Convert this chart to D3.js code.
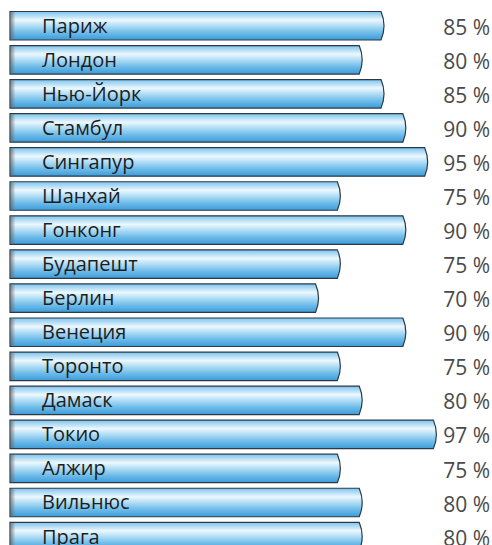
<!DOCTYPE html>
<html>
<head>
<meta charset="utf-8">
<script src="https://cdn.jsdelivr.net/npm/d3@7"></script>
<style>
  body { margin: 0; background: #fff; }
  text { font-family: "Open Sans", "Noto Sans", sans-serif; }
</style>
</head>
<body>
<div id="chart"></div>
<script>
// Städte und Werte (in %)
var cities = ["Париж", "Лондон", "Нью-Йорк", "Стамбул", "Сингапур", "Шанхай", "Гонконг",
  "Будапешт", "Берлин", "Венеция", "Торонто", "Дамаск", "Токио", "Алжир", "Вильнюс", "Прага"];
var values = [85, 80, 85, 90, 95, 75, 90, 75, 70, 90, 75, 80, 97, 75, 80, 80];

var width = 492, height = 545;
var svg = d3.select("#chart").append("svg")
  .attr("width", width).attr("height", height);

var x = d3.scaleLinear().domain([0, 100]).range([10, 446.5]);
var y = d3.scaleBand().domain(cities).range([11.5, 550.8]).paddingInner(0.163).paddingOuter(0);

// Verlauf für die Balken
var defs = svg.append("defs");
var grad = defs.append("linearGradient").attr("id", "barGrad")
  .attr("x1", 0).attr("y1", 0).attr("x2", 0).attr("y2", 1);
grad.append("stop").attr("offset", "0%").attr("stop-color", "#7cc3ee");
grad.append("stop").attr("offset", "30%").attr("stop-color", "#ecf8fe");
grad.append("stop").attr("offset", "45%").attr("stop-color", "#bfe4f8");
grad.append("stop").attr("offset", "75%").attr("stop-color", "#6cbbe9");
grad.append("stop").attr("offset", "100%").attr("stop-color", "#3d9bd8");

var edge = defs.append("linearGradient").attr("id", "leftEdge")
  .attr("x1", 0).attr("y1", 0).attr("x2", 1).attr("y2", 0);
edge.append("stop").attr("offset", "0%").attr("stop-color", "#666").attr("stop-opacity", 0.7);
edge.append("stop").attr("offset", "100%").attr("stop-color", "#666").attr("stop-opacity", 0);

function barPath(v, name) {
  var x0 = x(0), x1 = x(v), y0 = y(name), h = y.bandwidth();
  return "M" + x0 + "," + y0 +
    "L" + x1 + "," + y0 +
    "Q" + (x1 + 6) + "," + (y0 + h / 2) + " " + x1 + "," + (y0 + h) +
    "L" + x0 + "," + (y0 + h) + "Z";
}

var rows = svg.selectAll(".row").data(cities).enter().append("g").attr("class", "row");

rows.append("path")
  .attr("d", function(d, i) { return barPath(values[i], d); })
  .attr("fill", "url(#barGrad)")
  .attr("stroke", "#2b3a44").attr("stroke-width", 1.2);

rows.append("rect")
  .attr("x", x(0) + 0.6).attr("y", function(d) { return y(d) + 0.6; })
  .attr("width", 5).attr("height", y.bandwidth() - 1.2)
  .attr("fill", "url(#leftEdge)");

rows.append("text")
  .attr("x", 42)
  .attr("y", function(d) { return y(d) + y.bandwidth() / 2; })
  .attr("dy", "0.35em")
  .attr("font-size", 20)
  .attr("fill", "#1e1e1e")
  .text(function(d) { return d; });

rows.append("text")
  .attr("x", 490)
  .attr("y", function(d) { return y(d) + y.bandwidth() / 2 + 1.5; })
  .attr("dy", "0.36em")
  .attr("text-anchor", "end")
  .attr("font-size", 21)
  .attr("fill", "#4a4a4a")
  .text(function(d, i) { return values[i] + " %"; });
</script>
</body>
</html>
